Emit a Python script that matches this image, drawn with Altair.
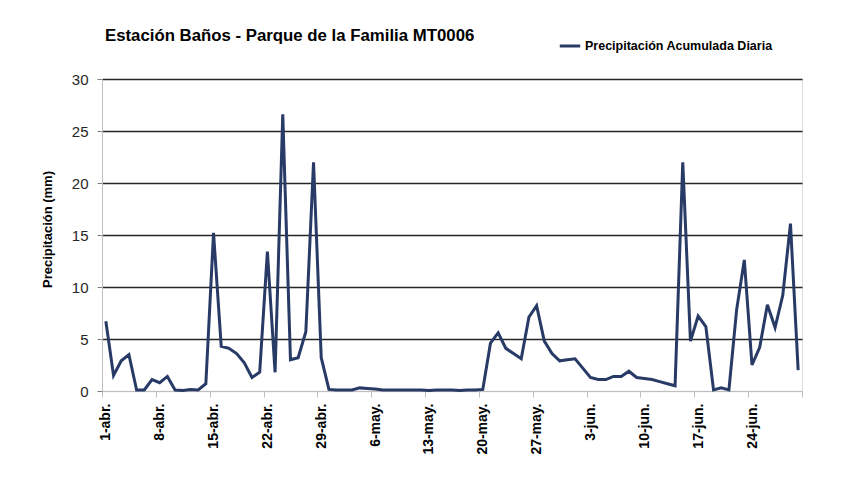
import altair as alt
import pandas as pd

# ---- data ----
meses = [("abr.", 30), ("may.", 31), ("jun.", 30)]
fechas = [f"{d}-{m}" for m, n in meses for d in range(1, n + 1)]

precip = [
    6.7, 1.5, 2.9, 3.5, 0.1, 0.1, 1.1, 0.8, 1.4, 0.1, 0.05, 0.15, 0.1, 0.7,
    15.2, 4.3, 4.1, 3.6, 2.7, 1.3, 1.8, 13.4, 1.8, 26.6, 3.0, 3.2, 5.7, 22.0,
    3.2, 0.15, 0.1, 0.1, 0.1, 0.3, 0.25, 0.2,
    0.1, 0.1, 0.1, 0.1, 0.1, 0.1, 0.05, 0.1, 0.1, 0.1, 0.05, 0.1, 0.1, 0.15,
    4.6, 5.6, 4.1, 3.6, 3.1, 7.1, 8.2, 4.8, 3.6, 2.9, 3.0, 3.1, 2.2, 1.3,
    1.1, 1.1, 1.4, 1.4, 1.9, 1.3, 1.2, 1.1, 0.9,
    0.7, 0.5, 22.0, 4.8, 7.2, 6.2, 0.1, 0.3, 0.1, 7.8, 12.6, 2.5, 4.2, 8.3,
    6.1, 9.2, 16.1, 2.0,
]

etiquetas = fechas[::7]
y_ticks = [0, 5, 10, 15, 20, 25, 30]
serie = "Precipitación Acumulada Diaria"
titulo = "Estación Baños - Parque de la Familia MT0006"

df = pd.DataFrame({
    "dia": list(range(len(fechas))),
    "fecha": fechas,
    "precip": precip,
    "serie": serie,
})

FONT = "Liberation Sans Narrow, Liberation Sans, Arial, sans-serif"
NAVY = "#283a66"

x_tick_values = [k * 7 - 0.5 for k in range(len(etiquetas) + 1)]
label_expr = ("[" + ",".join(f"'{e}'" for e in etiquetas) + "]"
              "[round((datum.value + 0.5) / 7)] || ''")

chart = alt.Chart(df).mark_line(strokeWidth=3).encode(
    x=alt.X(
        "dia:Q",
        scale=alt.Scale(domain=[-0.5, len(fechas) - 0.5], nice=False, zero=False),
        axis=alt.Axis(
            values=x_tick_values,
            labelExpr=label_expr,
            labelAngle=270,
            labelAlign="right",
            labelBaseline="middle",
            labelOffset=3.85,
            labelPadding=6,
            tickSize=6,
            tickColor="#bfbfbf",
            domainColor="#bfbfbf",
            grid=False,
            title=None,
            labelFont=FONT,
            labelFontSize=14,
            labelFontWeight="bold",
            labelColor="#000000",
            labelOverlap=False,
        ),
    ),
    y=alt.Y(
        "precip:Q",
        scale=alt.Scale(domain=[0, 30], nice=False),
        axis=alt.Axis(
            values=y_ticks,
            grid=True,
            gridColor={"condition": {"test": "datum.value === 0", "value": "#d9d9d9"},
                       "value": "#262626"},
            gridWidth=1.6,
            tickSize=5,
            tickColor="#808080",
            domainColor="#bfbfbf",
            labelFont=FONT,
            labelFontSize=15,
            labelColor="#262626",
            labelPadding=9,
            title="Precipitación (mm)",
            titleFont=FONT,
            titleFontSize=13,
            titleFontWeight="bold",
            titleColor="#000000",
            titleAngle=270,
            titleAlign="center",
            titleBaseline="middle",
            titleX=-55,
            titleY=150,
        ),
    ),
    color=alt.Color(
        "serie:N",
        scale=alt.Scale(range=[NAVY]),
        legend=alt.Legend(
            orient="none",
            legendX=456,
            legendY=-45,
            title=None,
            symbolType="stroke",
            symbolSize=420,
            symbolStrokeWidth=3,
            labelFont=FONT,
            labelFontSize=12.5,
            labelFontWeight="bold",
            labelColor="#000000",
            labelOffset=3,
            labelLimit=400,
            padding=0,
        ),
    ),
).properties(
    width=700,
    height=312,
    title=alt.TitleParams(
        text=titulo,
        anchor="start",
        frame="group",
        font=FONT,
        fontSize=16.8,
        fontWeight="bold",
        color="#000000",
        dx=3,
        offset=0,
        dy=11,
    ),
    autosize=alt.AutoSizeParams(type="none"),
    padding={"left": 94, "top": 71, "right": 40, "bottom": 80},
).configure_view(stroke=None).configure(background="white")

chart.save("out.html", embed_options={"renderer": "svg", "actions": False})
